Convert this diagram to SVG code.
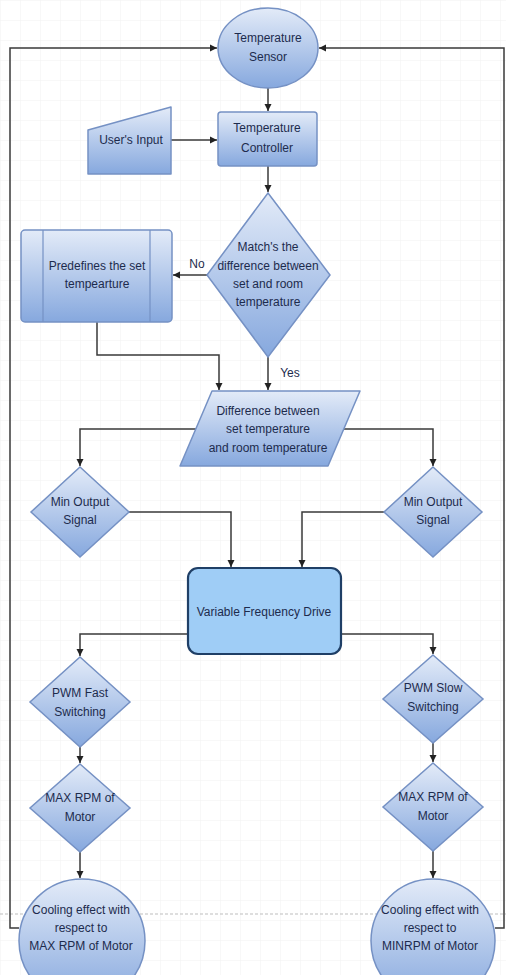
<svg xmlns="http://www.w3.org/2000/svg" width="506" height="975" viewBox="0 0 506 975">
<style>
.shape{fill:url(#g);stroke:#7591c4;stroke-width:1.5}
.t{font-family:"Liberation Sans",Arial,sans-serif;font-size:12px;fill:#1d2b4d;text-anchor:middle}
.c{fill:none;stroke:#3a3a3a;stroke-width:1.5}
</style>
<defs>
<linearGradient id="g" x1="0" y1="0" x2="0" y2="1">
<stop offset="0" stop-color="#e3ebf8"/>
<stop offset="1" stop-color="#86a8de"/>
</linearGradient>
<pattern id="grid" width="20" height="20" patternUnits="userSpaceOnUse">
<path d="M20 0 L0 0 0 20" fill="none" stroke="#f1f1f1" stroke-width="1"/>
</pattern>
<marker id="a" markerWidth="8" markerHeight="8" refX="7" refY="4" orient="auto" markerUnits="userSpaceOnUse">
<path d="M0,0.5 L7,4 L0,7.5 z" fill="#222"/>
</marker>
</defs>
<rect width="506" height="975" fill="#fff"/>
<rect width="506" height="975" fill="url(#grid)"/>
<line x1="0" y1="914" x2="506" y2="914" stroke="#bdbdbd" stroke-width="1.2" stroke-dasharray="3,2"/>
<g id="connectors">
<path class="c" d="M268,88 V111" marker-end="url(#a)"/>
<path class="c" d="M171,140 H217" marker-end="url(#a)"/>
<path class="c" d="M268,166 V192" marker-end="url(#a)"/>
<path class="c" d="M207,275 H173" marker-end="url(#a)"/>
<path class="c" d="M97,322 V355 H219 V390" marker-end="url(#a)"/>
<path class="c" d="M268,357 V390" marker-end="url(#a)"/>
<path class="c" d="M196,429 H80 V466" marker-end="url(#a)"/>
<path class="c" d="M344,429 H433 V466" marker-end="url(#a)"/>
<path class="c" d="M129,512 H231 V567" marker-end="url(#a)"/>
<path class="c" d="M384,512 H302 V567" marker-end="url(#a)"/>
<path class="c" d="M188,634 H80 V656" marker-end="url(#a)"/>
<path class="c" d="M341,634 H433 V654" marker-end="url(#a)"/>
<path class="c" d="M80,747 V763" marker-end="url(#a)"/>
<path class="c" d="M433,743 V762" marker-end="url(#a)"/>
<path class="c" d="M80,852 V878" marker-end="url(#a)"/>
<path class="c" d="M433,851 V878" marker-end="url(#a)"/>
<path class="c" d="M19,928 H10 V48 H217" marker-end="url(#a)"/>
<path class="c" d="M495,928 H504 V48 H319" marker-end="url(#a)"/>
<text class="t" x="197" y="268">No</text>
<text class="t" x="290" y="377">Yes</text>
</g>
<g id="sensor">
<ellipse class="shape" cx="268" cy="48" rx="50" ry="40"/>
<text class="t" x="268" y="42">Temperature</text>
<text class="t" x="268" y="61">Sensor</text>
</g>
<g id="controller">
<rect class="shape" x="218" y="112" width="99" height="54" rx="3"/>
<text class="t" x="267" y="132">Temperature</text>
<text class="t" x="267" y="152">Controller</text>
</g>
<g id="user-input">
<path class="shape" d="M88,130 L171,107 L171,174 L88,174 Z" stroke-linejoin="round"/>
<text class="t" x="131" y="144">User's Input</text>
</g>
<g id="decision">
<polygon class="shape" points="268,193 330,275 268,357 207,275"/>
<text class="t" x="268" y="251">Match's the</text>
<text class="t" x="268" y="270">difference between</text>
<text class="t" x="268" y="288">set and room</text>
<text class="t" x="268" y="306">temperature</text>
</g>
<g id="predefines">
<rect class="shape" x="21" y="230" width="151" height="92" rx="4"/>
<line x1="43" y1="230" x2="43" y2="322" stroke="#7591c4" stroke-width="1.2"/>
<line x1="150" y1="230" x2="150" y2="322" stroke="#7591c4" stroke-width="1.2"/>
<text class="t" x="97" y="270">Predefines the set</text>
<text class="t" x="97" y="288">tempearture</text>
</g>
<g id="difference">
<polygon class="shape" points="212,391 360,391 328,466 180,466" stroke-linejoin="round"/>
<text class="t" x="268" y="415">Difference between</text>
<text class="t" x="268" y="433">set temperature</text>
<text class="t" x="268" y="452">and room temperature</text>
</g>
<g id="min-left">
<polygon class="shape" points="80,467 129,512 80,557 31,512"/>
<text class="t" x="80" y="506">Min Output</text>
<text class="t" x="80" y="524">Signal</text>
</g>
<g id="min-right">
<polygon class="shape" points="433,467 482,512 433,557 384,512"/>
<text class="t" x="433" y="506">Min Output</text>
<text class="t" x="433" y="524">Signal</text>
</g>
<g id="vfd">
<rect x="188" y="568" width="153" height="86" rx="10" fill="#9fcdf6" stroke="#1f3f66" stroke-width="2.2"/>
<text class="t" x="264" y="616" fill="#1a3c70">Variable Frequency Drive</text>
</g>
<g id="pwm-fast">
<polygon class="shape" points="80,657 130,702 80,747 30,702"/>
<text class="t" x="80" y="697">PWM Fast</text>
<text class="t" x="80" y="716">Switching</text>
</g>
<g id="pwm-slow">
<polygon class="shape" points="433,655 483,699 433,743 383,699"/>
<text class="t" x="433" y="692">PWM Slow</text>
<text class="t" x="433" y="711">Switching</text>
</g>
<g id="max-left">
<polygon class="shape" points="80,764 130,808 80,852 30,808"/>
<text class="t" x="80" y="802">MAX RPM of</text>
<text class="t" x="80" y="821">Motor</text>
</g>
<g id="max-right">
<polygon class="shape" points="433,763 483,807 433,851 383,807"/>
<text class="t" x="433" y="801">MAX RPM of</text>
<text class="t" x="433" y="820">Motor</text>
</g>
<g id="cooling-left">
<ellipse class="shape" cx="82" cy="941" rx="63" ry="62"/>
<text class="t" x="81" y="914">Cooling effect with</text>
<text class="t" x="81" y="932">respect to</text>
<text class="t" x="81" y="950">MAX RPM of Motor</text>
</g>
<g id="cooling-right">
<ellipse class="shape" cx="433" cy="941" rx="62" ry="62"/>
<text class="t" x="430" y="914">Cooling effect with</text>
<text class="t" x="430" y="932">respect to</text>
<text class="t" x="430" y="950">MINRPM of Motor</text>
</g>
</svg>
